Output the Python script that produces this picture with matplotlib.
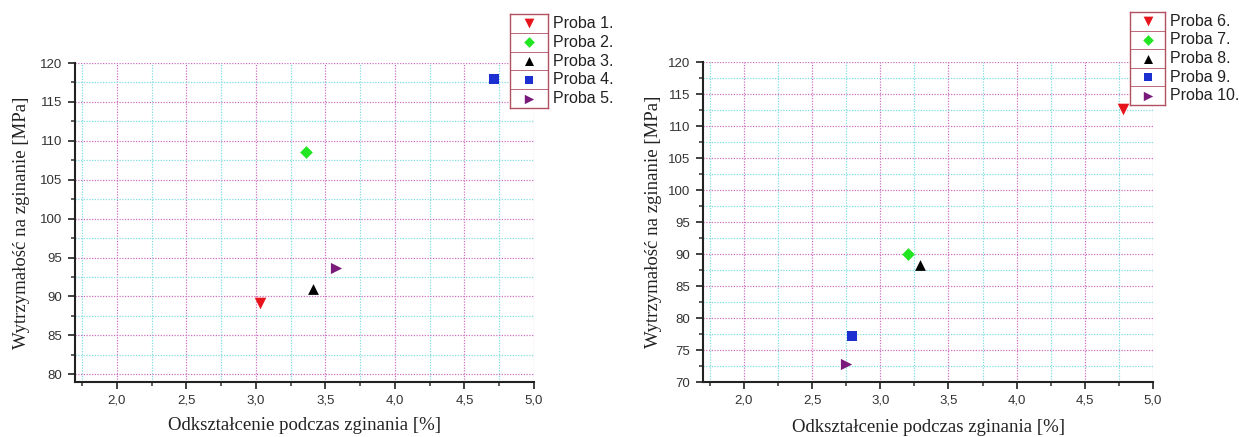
import matplotlib
matplotlib.use('Agg')
import matplotlib.pyplot as plt
from matplotlib.ticker import MultipleLocator, FixedLocator, FixedFormatter

# measured points, one series per sample
left_names = ['Proba 1.', 'Proba 2.', 'Proba 3.', 'Proba 4.', 'Proba 5.']
left_strain = [3.03, 3.36, 3.41, 4.71, 3.58]
left_strength = [89.2, 108.5, 91.0, 118.0, 93.7]

right_names = ['Proba 6.', 'Proba 7.', 'Proba 8.', 'Proba 9.', 'Proba 10.']
right_strain = [4.78, 3.20, 3.29, 2.79, 2.75]
right_strength = [112.7, 90.0, 88.3, 77.2, 72.8]

markers = ['v', 'D', '^', 's', '>']
colors = ['#e8141c', '#22e622', '#000000', '#1c2fd0', '#7a1a7a']
sizes = [70, 42, 60, 45, 65]

x_ticks = [2.0, 2.5, 3.0, 3.5, 4.0, 4.5, 5.0]
x_ticklabels = ['2,0', '2,5', '3,0', '3,5', '4,0', '4,5', '5,0']

xlabel = 'Odkształcenie podczas zginania [%]'
ylabel = 'Wytrzymałość na zginanie [MPa]'

W, H = 1239, 437
fig = plt.figure(figsize=(W / 100, H / 100), dpi=100)


def px_axes(x0, y0, x1, y1):
    return fig.add_axes([x0 / W, 1 - y1 / H, (x1 - x0) / W, (y1 - y0) / H])


def panel(box, ylim, xs, ys, names, leg_box, xlab_y, ylab_x):
    ax = px_axes(*box)
    for x, y, m, c, s in zip(xs, ys, markers, colors, sizes):
        ax.scatter(x, y, marker=m, color=c, s=s, zorder=5, linewidths=0)
    ax.set_xlim(1.7, 5.0)
    ax.set_ylim(*ylim)
    ax.xaxis.set_major_locator(FixedLocator(x_ticks))
    ax.xaxis.set_major_formatter(FixedFormatter(x_ticklabels))
    ax.xaxis.set_minor_locator(MultipleLocator(0.25))
    ax.yaxis.set_major_locator(MultipleLocator(5))
    ax.yaxis.set_minor_locator(MultipleLocator(2.5))
    ax.grid(which='major', color='#d070c0', linestyle=(0, (1, 1.2)), linewidth=0.9)
    ax.grid(which='minor', color='#80dde0', linestyle=(0, (1, 1.2)), linewidth=0.9)
    ax.set_axisbelow(True)
    for side in ('top', 'right'):
        ax.spines[side].set_visible(False)
    for side in ('left', 'bottom'):
        ax.spines[side].set_linewidth(1.5)
        ax.spines[side].set_color('#222222')
    ax.tick_params(which='major', direction='out', length=5, width=1.3,
                   labelsize=9.5, colors='#333333', pad=4)
    ax.tick_params(which='minor', direction='out', length=3, width=1.1,
                   colors='#333333')
    for lab in ax.get_xticklabels() + ax.get_yticklabels():
        lab.set_fontfamily('Liberation Sans')
    w = box[2] - box[0]
    h = box[3] - box[1]
    ax.set_xlabel(xlabel, fontfamily='Liberation Serif', fontsize=13.5,
                  color='#222222', va='center')
    ax.xaxis.set_label_coords(0.5, -(xlab_y - box[3]) / h)
    ax.set_ylabel(ylabel, fontfamily='Liberation Serif', fontsize=13.5,
                  color='#222222', va='center')
    ax.yaxis.set_label_coords((ylab_x - box[0]) / w, 0.5)

    # boxed legend: one cell per sample, labels to the right of the box
    lg = px_axes(*leg_box)
    n = len(names)
    lg.set_xlim(0, 1)
    lg.set_ylim(n, 0)
    lg.set_xticks([])
    lg.set_yticks([])
    for sp in lg.spines.values():
        sp.set_color('#b05060')
        sp.set_linewidth(1.0)
    for i in range(1, n):
        lg.axhline(i, color='#b05060', linewidth=0.6)
    text_x = 1 + 5 / (leg_box[2] - leg_box[0])
    for i, (name, m, c, s) in enumerate(zip(names, markers, colors, sizes)):
        lg.scatter(0.5, i + 0.5, marker=m, color=c, s=s * 0.7, linewidths=0)
        lg.text(text_x, i + 0.5, name, va='center', ha='left', fontsize=11.5,
                fontfamily='Liberation Sans', color='#222222', clip_on=False)
    return ax


panel((75, 63, 534, 382), (79.0, 120), left_strain, left_strength,
      left_names, (510, 14, 548, 108), 425, 22)
panel((703, 62, 1153, 382), (70, 120), right_strain, right_strength,
      right_names, (1130, 12, 1165, 105), 428, 653)

fig.savefig('out.png', dpi=100)
